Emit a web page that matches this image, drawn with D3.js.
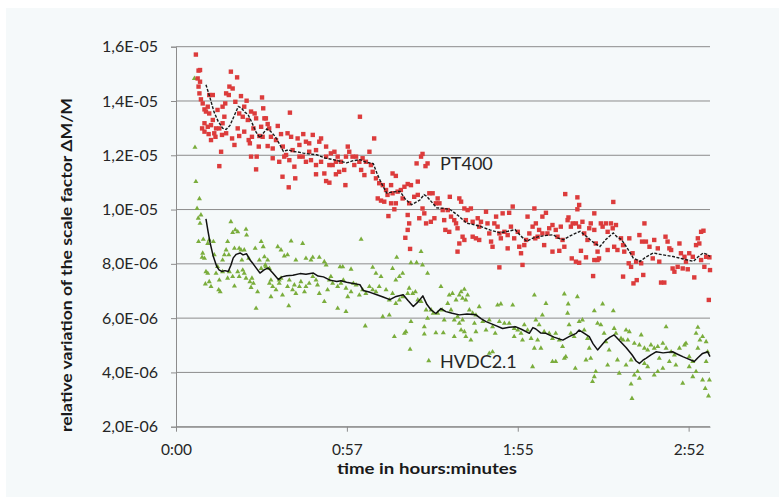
<!DOCTYPE html>
<html>
<head>
<meta charset="utf-8">
<script src="https://cdn.jsdelivr.net/npm/d3@7/dist/d3.min.js"></script>
<style>
  html, body { margin: 0; padding: 0; background: #ffffff; }
  svg { display: block; font-family: Lato, "Open Sans", sans-serif; }
</style>
</head>
<body>
<svg id="chart" width="779" height="497"></svg>
<script>
// Scale factor drift of two voltage dividers (values in units of 1E-06, time in minutes)
const yTickValues = [2, 4, 6, 8, 10, 12, 14, 16];
const yTickLabels = ["2,0E-06", "4,0E-06", "6,0E-06", "8,0E-06", "1,0E-05", "1,2E-05", "1,4E-05", "1,6E-05"];
const xTickValues = [0, 57.6, 115.2, 172.8];
const xTickLabels = ["0:00", "0:57", "1:55", "2:52"];
const seriesNames = ["PT400", "HVDC2.1"];

// PT400 measurements: [minute, value]
const pt400Points = [
  [6.7,15.71],[7.6,15.12],[8.1,15.14],[7.3,14.83],[8.1,14.71],[7.6,14.53],[7.9,14.28],[8.4,14.06],[9.0,13.91],[9.6,13.69],
  [10.7,13.79],[11.2,14.22],[12.4,14.22],[10.1,13.61],[11.2,13.54],[12.4,13.30],[8.8,12.99],[9.6,12.87],[10.7,13.05],[11.0,12.78],
  [11.8,12.56],[13.3,12.68],[13.5,12.99],[14.0,13.67],[14.6,12.99],[15.5,12.75],[15.2,12.13],[14.6,11.60],[15.7,13.18],[16.3,13.42],
  [16.6,13.91],[16.9,14.28],[17.8,14.22],[18.5,15.08],[18.0,14.53],[19.1,14.46],[20.0,13.97],[20.6,14.87],[18.9,12.62],[19.7,12.38],
  [20.8,12.99],[21.3,12.71],[21.9,14.18],[22.5,13.42],[23.0,12.87],[23.8,14.01],[24.2,13.30],[24.5,12.56],[24.9,12.44],[25.6,12.68],
  [26.1,12.99],[26.5,13.54],[27.0,13.36],[25.3,11.95],[27.2,11.95],[27.0,11.48],[27.9,12.32],[29.0,14.13],[29.4,13.73],[29.8,13.36],
  [28.7,13.05],[29.2,12.68],[28.1,12.71],[9.6,13.18],[12.9,12.81],[11.8,13.11],[15.7,13.79],[23.0,13.79],[21.3,13.54],[25.3,13.61],
  [16.9,12.81],
  [38.4,13.57],[30.3,13.36],[30.9,13.15],[31.4,12.99],[34.3,13.08],[32.0,12.68],[33.7,12.56],[30.9,12.34],[32.6,12.25],[35.4,12.78],
  [36.0,12.32],[37.6,12.81],[38.8,12.68],[37.1,12.01],[36.5,11.95],[34.8,11.76],[32.6,11.89],[39.3,12.19],[41.0,12.62],[41.6,12.38],
  [42.9,12.78],[43.8,12.50],[44.9,12.44],[46.1,12.75],[48.3,12.50],[48.9,12.62],[50.6,12.32],[47.2,12.19],[42.7,11.95],[43.8,11.76],
  [45.5,11.82],[47.2,11.64],[48.9,11.76],[50.6,11.95],[52.2,12.07],[53.4,12.13],[53.9,11.76],[51.7,11.64],[54.5,11.95],[55.6,11.76],
  [56.7,11.46],[57.9,12.32],[58.4,12.13],[59.5,11.95],[60.1,11.64],[57.3,11.95],[39.9,11.58],[35.9,11.21],[40.2,11.15],[38.0,10.82],
  [47.2,11.30],[50.0,11.33],[50.6,11.05],[51.7,10.99],[53.9,11.30],[55.0,11.39],[57.1,10.90],[41.6,11.95],[38.2,11.82],[44.9,12.13],
  [52.8,11.64],
  [62.0,13.42],[66.8,12.62],[65.2,12.13],[60.7,11.95],[61.8,11.76],[62.9,11.89],[64.0,11.76],[62.4,11.46],[63.5,11.27],[65.7,11.64],
  [66.3,11.39],[67.4,11.15],[68.5,10.97],[69.7,10.90],[73.0,11.33],[74.1,11.24],[72.5,10.90],[70.8,10.72],[68.0,10.41],[69.1,10.33],
  [70.2,10.29],[71.3,10.54],[73.0,10.60],[74.7,10.66],[75.8,10.72],[77.0,10.84],[78.1,10.94],[79.2,10.90],[81.5,11.03],[82.6,11.95],
  [83.1,12.05],[81.1,11.70],[84.8,11.70],[85.4,10.60],[81.5,10.54],[80.3,10.47],[78.6,10.23],[76.4,10.41],[72.5,10.23],[73.6,10.01],
  [71.6,9.76],[78.1,9.80],[78.6,9.49],[78.1,9.25],[77.3,8.96],[78.9,8.55],[82.0,9.68],[83.7,9.86],[84.3,9.49],[85.9,9.55],
  [87.1,9.68],[88.2,10.41],[88.8,10.23],[89.9,9.98],[90.4,9.61],[90.8,9.25],[87.6,10.23],[86.5,10.60],[83.1,10.04],[74.1,10.23],
  [84.1,11.60],
  [92.3,10.47],[95.5,10.41],[96.1,10.29],[97.2,10.04],[98.3,9.98],[99.4,10.04],[91.6,9.98],[92.7,9.74],[93.8,9.61],[94.9,9.31],
  [94.4,9.49],[92.1,9.18],[95.5,8.75],[94.9,8.45],[96.6,9.00],[97.2,8.88],[100.0,9.00],[101.1,8.94],[102.2,8.88],[101.7,9.68],
  [102.8,9.55],[102.2,9.37],[104.5,9.92],[105.0,9.49],[105.6,9.12],[106.2,8.82],[106.7,8.63],[107.9,9.74],[108.4,9.37],[109.0,9.12],
  [109.5,8.94],[110.1,9.86],[110.7,9.18],[111.8,9.06],[112.3,9.88],[112.9,9.37],[113.5,10.11],[114.0,8.94],[115.2,9.18],[115.7,8.63],
  [116.3,8.39],[116.8,7.96],[117.4,8.69],[118.0,8.88],[118.5,9.74],[119.1,9.12],[120.2,9.37],[120.8,10.04],[121.1,8.94],[109.0,7.87],
  [111.8,8.57],[100.0,9.55],[97.7,9.61],[107.3,9.49],
  [131.2,10.57],[135.3,10.45],[135.9,10.17],[135.3,10.01],[147.4,10.28],[141.0,9.86],[124.7,9.88],[123.5,9.74],[132.3,9.71],[132.0,9.61],
  [121.3,9.49],[122.4,9.25],[121.9,9.00],[123.5,9.12],[125.8,9.31],[126.9,9.43],[128.0,9.25],[128.6,9.00],[129.7,9.37],[130.3,8.88],
  [130.9,8.63],[133.1,9.37],[133.7,9.49],[134.8,9.49],[135.9,9.37],[137.0,9.55],[137.6,9.12],[138.7,8.88],[139.8,9.49],[139.3,9.31],
  [141.0,9.25],[141.5,8.75],[142.1,8.45],[142.6,8.20],[143.2,9.49],[143.8,9.37],[144.9,9.49],[145.5,9.18],[146.6,9.49],[147.2,9.31],
  [148.3,9.43],[147.7,8.63],[148.8,8.51],[150.0,8.94],[150.7,8.69],[151.1,8.45],[126.9,8.45],[129.2,8.48],[133.4,8.20],[134.8,8.08],
  [135.9,8.04],[136.5,8.48],[138.2,8.24],[141.0,8.14],[142.1,8.14],[140.6,7.55],[150.7,7.53],[124.1,8.69],[125.2,9.12],[145.5,8.51],
  [157.9,9.49],[152.8,8.94],[156.2,9.06],[157.1,8.82],[158.4,8.82],[159.6,8.63],[161.2,8.88],[162.4,8.57],[165.0,9.00],[165.7,8.82],
  [166.3,8.57],[166.9,8.51],[169.7,8.75],[170.2,8.39],[171.4,8.26],[173.0,8.39],[174.2,8.26],[175.9,8.94],[176.4,8.75],[177.0,9.18],
  [177.8,9.22],[175.3,8.69],[178.7,8.26],[179.8,8.24],[179.6,6.67],[153.9,8.39],[155.1,8.08],[156.8,8.02],[153.4,7.89],[152.6,8.02],
  [154.2,7.28],[155.3,7.40],[157.5,7.59],[163.5,7.31],[164.6,7.31],[160.7,8.20],[162.9,8.08],[167.4,7.83],[168.0,7.71],[169.1,7.89],
  [170.8,7.83],[171.9,8.08],[172.5,7.80],[174.7,7.50],[177.0,8.14],[178.1,7.89],[180.0,7.77]
];

// HVDC2.1 measurements: [minute, value]
const hvdcPoints = [
  [6.2,14.83],[6.4,12.29],[6.7,11.03],[7.9,10.40],[7.1,10.04],[7.5,9.68],[8.4,9.80],[8.1,9.49],[7.6,8.82],[9.2,8.90],
  [9.0,8.39],[8.8,8.24],[9.6,8.20],[10.7,8.75],[11.2,8.88],[12.6,8.82],[10.1,7.71],[10.7,7.65],[11.2,7.34],[9.9,7.26],
  [11.8,7.16],[12.9,8.33],[14.0,7.90],[13.5,7.65],[14.6,7.40],[14.4,7.04],[14.9,6.97],[15.7,8.14],[16.3,8.33],[16.9,8.51],
  [17.4,8.82],[17.8,8.33],[18.5,9.55],[19.1,9.15],[20.0,9.25],[20.8,9.18],[19.7,8.57],[21.3,8.57],[21.9,8.51],[23.6,9.27],
  [23.8,9.06],[23.0,8.51],[24.5,8.20],[22.2,8.14],[18.0,7.71],[17.4,7.47],[19.1,7.53],[19.7,7.18],[20.8,7.71],[21.3,7.53],
  [22.5,7.77],[23.6,7.47],[23.0,7.65],[24.9,7.34],[25.6,7.47],[26.1,7.28],[25.3,7.13],[26.7,8.57],[27.5,6.97],[27.0,6.36],
  [28.7,8.82],[29.4,8.63],[28.1,8.14],[29.8,8.26],[28.7,7.83],[30.1,7.96],[15.7,7.71],
  [38.8,8.84],[42.7,8.75],[34.3,8.63],[35.4,8.51],[36.5,8.29],[37.6,8.33],[40.4,8.14],[43.8,8.20],[46.1,8.24],[48.3,8.24],
  [45.5,8.14],[50.6,7.96],[50.0,8.08],[56.2,7.89],[55.3,7.89],[59.0,7.80],[30.9,8.14],[30.3,7.89],[31.5,7.83],[32.0,7.40],
  [31.5,7.28],[32.6,7.16],[32.0,6.79],[33.7,7.04],[34.8,7.40],[35.4,7.47],[35.9,6.85],[38.2,7.40],[37.6,7.16],[39.3,7.04],
  [39.9,7.22],[40.4,6.91],[41.6,7.16],[42.1,7.34],[43.3,6.97],[43.8,7.16],[44.9,7.28],[47.2,7.40],[47.7,7.22],[48.3,6.91],
  [50.0,6.61],[51.1,7.04],[51.7,7.40],[52.8,7.28],[54.5,7.16],[55.6,7.28],[56.4,7.40],[57.3,7.10],[57.9,6.79],[59.0,6.97],
  [59.8,7.28],[54.5,6.36],[57.3,6.24],[38.0,6.45],[34.8,7.28],[52.2,7.53],[46.1,7.53],
  [62.4,8.90],[74.4,8.24],[82.6,8.45],[83.1,7.96],[79.2,8.04],[81.1,8.04],[66.3,7.87],[67.4,7.65],[73.0,7.83],[74.1,7.40],
  [75.3,7.53],[76.4,7.65],[84.8,7.65],[89.3,7.16],[60.7,7.22],[61.8,6.85],[62.9,7.04],[64.0,6.91],[65.2,7.16],[66.3,7.04],
  [67.4,6.97],[68.5,7.16],[69.1,7.53],[70.8,7.04],[71.9,6.67],[73.0,6.91],[74.1,6.54],[75.3,6.67],[76.4,6.79],[78.1,6.91],
  [78.6,7.10],[79.8,6.91],[80.7,6.97],[81.5,6.67],[82.6,6.61],[84.3,6.30],[84.8,5.99],[86.0,6.30],[86.7,6.18],[88.2,6.18],
  [89.7,6.30],[90.4,5.93],[63.8,5.71],[71.9,6.11],[69.7,6.05],[73.6,5.32],[77.5,5.50],[77.0,5.44],[79.2,5.87],[78.9,4.85],
  [83.7,5.68],[83.7,5.41],[85.2,4.43],[87.6,5.46],[90.1,5.46],
  [96.1,6.97],[95.5,6.85],[96.6,6.73],[97.2,7.06],[97.7,6.67],[98.3,6.85],[92.1,6.85],[93.2,6.91],[94.4,6.67],[91.6,6.54],
  [92.7,6.30],[93.8,5.93],[94.9,6.05],[95.5,5.81],[96.1,5.56],[96.6,5.93],[97.2,5.50],[97.7,5.32],[98.9,6.30],[100.0,6.18],
  [100.6,5.81],[101.1,6.11],[102.2,6.42],[103.4,5.87],[104.5,5.56],[105.6,5.93],[106.7,5.68],[107.6,5.44],[108.4,6.48],[109.5,6.52],
  [109.0,5.87],[110.7,5.81],[112.3,5.81],[113.5,6.48],[114.0,5.62],[115.2,5.56],[116.3,5.44],[117.4,5.75],[118.5,5.56],[119.7,5.25],
  [120.8,4.89],[120.2,4.21],[106.7,4.76],[105.6,4.70],[114.0,5.32],[116.8,5.19],[120.8,6.85],[101.1,5.50],[99.4,5.19],[93.8,5.32],
  [130.9,6.89],[135.3,6.79],[124.7,6.54],[132.2,6.52],[123.5,6.11],[143.8,6.52],[141.0,6.27],[132.0,6.18],[147.4,6.27],[121.3,5.93],
  [122.4,5.75],[124.1,5.50],[121.9,5.19],[123.0,4.89],[125.8,5.44],[126.9,5.25],[128.0,5.44],[129.2,5.19],[130.3,4.95],[130.9,4.52],
  [132.5,5.75],[133.1,5.44],[134.2,5.32],[135.9,5.87],[137.0,5.93],[137.6,5.56],[138.7,5.25],[139.3,4.89],[138.2,4.46],[139.8,4.52],
  [142.1,5.81],[143.2,5.75],[144.3,5.44],[144.9,5.13],[146.0,4.82],[147.7,5.62],[148.3,5.44],[148.8,4.46],[150.0,5.25],[150.7,5.19],
  [149.4,3.97],[141.5,4.03],[141.0,3.84],[140.4,3.66],[134.6,4.15],[128.0,4.40],[126.9,4.40],[131.4,4.58],[145.5,4.27],
  [165.2,5.68],[175.9,5.66],[175.3,5.44],[151.7,5.56],[152.8,5.50],[156.8,5.38],[154.5,5.07],[156.2,5.01],[157.9,4.89],[159.0,4.82],
  [160.1,5.01],[161.2,4.89],[162.4,4.95],[164.1,5.07],[165.2,4.89],[166.9,4.76],[168.0,4.64],[169.7,4.89],[171.4,5.01],[171.9,5.07],
  [173.0,4.58],[174.2,4.40],[175.9,4.89],[176.6,5.19],[177.5,5.32],[178.7,5.13],[179.2,4.76],[153.4,4.46],[154.5,3.90],[155.6,4.03],
  [156.2,3.78],[157.9,4.33],[159.0,4.21],[161.2,3.90],[162.4,4.03],[164.1,4.15],[166.3,4.40],[168.5,4.27],[170.8,3.60],[173.0,4.21],
  [174.2,3.84],[175.3,4.03],[177.5,3.72],[178.7,4.40],[179.8,3.72],[178.4,3.41],[179.5,3.13],[153.4,3.57],[153.7,3.04],[151.7,4.27],
  [152.3,5.19],[162.9,4.52]
];

// Moving averages: [minute, value]
const pt400Trend = [
  [10.1,14.6],[11.5,14.1],[12.8,13.6],[14.2,13.25],[15.7,13.0],[16.9,12.95],[18.2,13.1],[19.6,13.45],[21.0,13.8],[21.9,13.75],
  [23.3,13.58],[24.3,13.5],[25.6,13.2],[27.0,12.85],[28.3,12.64],[29.3,12.8],[30.6,12.97],[31.7,12.9],[33.4,12.7],[34.7,12.45],
  [36.2,12.14],[37.8,12.2],[39.5,12.14],[41.1,12.12],[42.9,12.08],[45.2,12.04],[47.4,12.02],[50.2,11.9],[53.0,11.84],[55.3,11.78],
  [57.5,11.72],[59.7,11.8],[62.0,11.84],[64.0,11.75],[66.5,11.69],[67.7,11.35],[69.1,11.0],[71.0,10.61],[73.2,10.65],[75.5,10.67],
  [77.2,10.4],[79.4,10.18],[82.2,10.35],[83.6,10.55],[84.5,10.49],[87.9,10.06],[90.0,10.05],[92.4,10.0],[95.1,9.78],[98.0,9.5],
  [100.2,9.45],[102.5,9.38],[105.8,9.25],[109.2,9.14],[111.9,9.2],[114.3,9.26],[116.0,9.05],[118.2,8.83],[120.3,8.95],[122.7,9.01],
  [125.0,9.05],[127.2,9.07],[128.8,8.95],[130.6,8.89],[133.2,9.05],[136.2,9.2],[137.9,9.05],[139.6,8.89],[141.2,8.75],[142.9,8.64],
  [144.9,8.9],[147.4,9.14],[148.6,9.0],[150.2,8.89],[152.0,8.6],[154.1,8.22],[156.4,8.09],[158.4,8.25],[160.9,8.4],[164.1,8.33],
  [167.6,8.27],[170.9,8.18],[174.4,8.09],[175.9,8.25],[177.7,8.4],[179.0,8.35],[180.0,8.27]
];
const hvdcTrend = [
  [10.1,9.66],[10.8,9.2],[11.5,8.77],[12.5,8.3],[13.7,7.91],[14.5,7.78],[15.4,7.72],[16.5,7.75],[17.6,7.72],[18.5,7.95],
  [19.3,8.22],[20.3,8.35],[21.6,8.4],[22.6,8.33],[23.8,8.37],[24.9,8.15],[26.0,8.0],[27.0,7.85],[28.3,7.66],[29.7,7.78],
  [31.1,7.85],[32.7,7.65],[34.5,7.42],[35.7,7.52],[37.3,7.56],[39.4,7.58],[41.8,7.64],[43.8,7.62],[46.3,7.66],[47.9,7.55],
  [49.7,7.52],[51.9,7.4],[54.2,7.35],[55.6,7.38],[57.5,7.32],[59.7,7.28],[62.0,7.23],[63.1,7.02],[65.4,6.95],[67.7,6.86],
  [69.8,6.78],[72.1,6.68],[74.2,6.8],[76.6,6.86],[78.2,6.65],[80.0,6.43],[81.6,6.6],[83.2,6.82],[84.6,6.5],[86.0,6.3],
  [87.6,6.17],[89.3,6.35],[91.0,6.24],[93.1,6.18],[95.5,6.12],[98.1,6.15],[101.1,6.12],[102.8,5.98],[104.5,5.87],[107.2,5.75],
  [110.1,5.62],[112.3,5.66],[114.6,5.68],[116.6,5.58],[119.1,5.44],[120.3,5.65],[121.3,5.6],[123.0,5.45],[124.7,5.44],[127.4,5.3],
  [130.4,5.19],[132.5,5.32],[134.9,5.44],[135.9,5.56],[137.5,5.45],[139.3,5.32],[140.6,5.05],[142.1,4.83],[143.6,5.02],[144.9,5.19],
  [146.3,5.3],[147.7,5.38],[149.7,5.15],[151.7,4.92],[153.7,4.65],[155.1,4.42],[156.2,4.33],[157.4,4.45],[158.4,4.52],[160.1,4.65],
  [161.8,4.76],[164.2,4.72],[167.4,4.76],[168.9,4.68],[170.8,4.58],[172.6,4.5],[174.7,4.4],[176.0,4.55],[177.5,4.7],[179.2,4.76],
  [180.0,4.58]
];

const svg = d3.select("#chart");
const W = 779, H = 497;
const plot = { left: 176, right: 710, top: 46.7, bottom: 426.7 };

// panel background
svg.append("rect").attr("x", 6).attr("y", 8).attr("width", W - 6).attr("height", H - 8)
  .attr("fill", "#f5f9fa");

const x = d3.scaleLinear().domain([0, 180]).range([plot.left, plot.right]);
const y = d3.scaleLinear().domain([2, 16]).range([plot.bottom, plot.top]);

const gridColor = "#8c8c8c";
const textColor = "#262626";

// horizontal gridlines
svg.append("g").selectAll("line").data(yTickValues).join("line")
  .attr("x1", plot.left).attr("x2", plot.right)
  .attr("y1", d => y(d)).attr("y2", d => y(d))
  .attr("stroke", gridColor).attr("stroke-width", 1);

// y axis
const yAxis = d3.axisLeft(y).tickValues(yTickValues)
  .tickFormat((d, i) => yTickLabels[i]).tickSize(5).tickPadding(13);
const gy = svg.append("g").attr("transform", `translate(${plot.left},0)`).call(yAxis);
gy.select(".domain").attr("stroke", gridColor);
gy.selectAll(".tick line").attr("stroke", gridColor);
gy.selectAll(".tick text").attr("fill", textColor).style("font-size", "16px")
  .style("font-family", "Lato, sans-serif");

// x axis
const xAxis = d3.axisBottom(x).tickValues(xTickValues)
  .tickFormat((d, i) => xTickLabels[i]).tickSize(5).tickPadding(12).tickSizeOuter(0);
const gx = svg.append("g").attr("transform", `translate(0,${plot.bottom})`).call(xAxis);
gx.select(".domain").attr("stroke", gridColor);
gx.selectAll(".tick line").attr("stroke", gridColor);
gx.selectAll(".tick text").attr("fill", textColor).style("font-size", "15.5px")
  .style("font-family", "Lato, sans-serif");

// measurement points
const tri = d3.symbol().type(d3.symbolTriangle).size(11);
svg.append("g").selectAll("path").data(hvdcPoints).join("path")
  .attr("d", tri)
  .attr("transform", d => `translate(${x(d[0])},${y(d[1])})`)
  .attr("fill", "#7aad3c");

svg.append("g").selectAll("rect").data(pt400Points).join("rect")
  .attr("x", d => x(d[0]) - 2.2).attr("y", d => y(d[1]) - 2.2)
  .attr("width", 4.4).attr("height", 4.4)
  .attr("fill", "#dc3c3c");

// moving averages
const line = d3.line().x(d => x(d[0])).y(d => y(d[1]));
svg.append("path").datum(pt400Trend).attr("d", line)
  .attr("fill", "none").attr("stroke", "#1a1a1a").attr("stroke-width", 1.4)
  .attr("stroke-dasharray", "3,1.5");
svg.append("path").datum(hvdcTrend).attr("d", line)
  .attr("fill", "none").attr("stroke", "#111").attr("stroke-width", 1.5)
  .attr("stroke-linejoin", "round");

// series labels
svg.append("text").attr("x", x(89)).attr("y", y(11.46)).text(seriesNames[0])
  .attr("fill", textColor).style("font-size", "18px");
svg.append("text").attr("x", x(89)).attr("y", y(4.15)).text(seriesNames[1])
  .attr("fill", textColor).style("font-size", "18px");

// axis titles
svg.append("text")
  .attr("transform", "translate(72,265) rotate(-90)")
  .attr("text-anchor", "middle").attr("fill", "#1a1a1a")
  .style("font-size", "15.5px").style("font-weight", "bold")
  .attr("textLength", 334).attr("lengthAdjust", "spacingAndGlyphs")
  .text("relative variation of the scale factor \u0394M/M");

svg.append("text")
  .attr("x", 427).attr("y", 474)
  .attr("text-anchor", "middle").attr("fill", "#1a1a1a")
  .style("font-size", "15px").style("font-weight", "bold")
  .attr("textLength", 180).attr("lengthAdjust", "spacingAndGlyphs")
  .text("time in hours:minutes");
</script>
</body>
</html>
